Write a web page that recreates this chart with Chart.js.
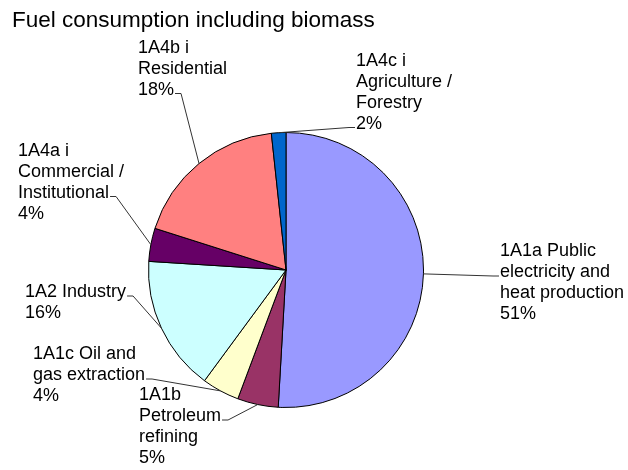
<!DOCTYPE html>
<html>
<head>
<meta charset="utf-8">
<script src="https://cdn.jsdelivr.net/npm/chart.js@4/dist/chart.umd.min.js"></script>
<style>
html,body{margin:0;padding:0;background:#fff;}
#wrap{width:628px;height:470px;}
</style>
</head>
<body>
<div id="wrap"><canvas id="c" width="628" height="470"></canvas></div>
<script>
// ---- data ----
const categories = [
  "1A1a Public electricity and heat production",
  "1A1b Petroleum refining",
  "1A1c Oil and gas extraction",
  "1A2 Industry",
  "1A4a i Commercial / Institutional",
  "1A4b i Residential",
  "1A4c i Agriculture / Forestry"
];
const labelLines = [
  ["1A1a Public", "electricity and", "heat production"],
  ["1A1b", "Petroleum", "refining"],
  ["1A1c Oil and", "gas extraction"],
  ["1A2 Industry"],
  ["1A4a i", "Commercial /", "Institutional"],
  ["1A4b i", "Residential"],
  ["1A4c i", "Agriculture /", "Forestry"]
];
const shares = [50.9, 4.8, 4.4, 15.9, 3.9, 18.4, 1.7];
const sliceColors = ["#9999FF", "#993366", "#FFFFCC", "#CCFFFF", "#660066", "#FF8080", "#0066CC"];
const titleText = "Fuel consumption including biomass";

// ---- label layout (position of text block, side of leader, line the leader meets) ----
const labelLayout = [
  {x: 500, y: 256, side: "left",  line: 1},
  {x: 139, y: 400, side: "right", line: 1},
  {x: 33,  y: 359, side: "right", line: 1},
  {x: 25,  y: 297, side: "right", line: 0},
  {x: 18,  y: 155.5, side: "right", line: 2},
  {x: 138, y: 52.5,  side: "right", line: 2},
  {x: 356, y: 65.5,  side: "left",  line: 3}
];
const FONT = '18px "Liberation Sans", Arial, sans-serif';
const LINE_H = 21;

const labelPlugin = {
  id: 'pieLabels',
  afterDraw(chart) {
    const ctx = chart.ctx;
    const meta = chart.getDatasetMeta(0);
    const total = shares.reduce((a, b) => a + b, 0);
    ctx.save();
    // title
    ctx.font = '22.5px "Liberation Sans", Arial, sans-serif';
    ctx.fillStyle = '#000';
    ctx.textBaseline = 'alphabetic';
    ctx.textAlign = 'left';
    ctx.fillText(titleText, 12, 27);

    ctx.font = FONT;
    meta.data.forEach((arc, i) => {
      const p = arc.getProps(['x', 'y', 'startAngle', 'endAngle', 'outerRadius'], true);
      const mid = (p.startAngle + p.endAngle) / 2;
      const ex = p.x + Math.cos(mid) * p.outerRadius;
      const ey = p.y + Math.sin(mid) * p.outerRadius;
      const lines = labelLines[i].concat([Math.round(shares[i] / total * 100) + '%']);
      const L = labelLayout[i];
      ctx.fillStyle = '#000';
      lines.forEach((t, k) => ctx.fillText(t, L.x, L.y + k * LINE_H));
      // leader
      const ly = L.y + L.line * LINE_H - 1;
      let ax, bx;
      if (L.side === 'right') {
        const w = ctx.measureText(lines[L.line]).width;
        ax = L.x + w + 1; bx = ax + 6;
      } else {
        ax = L.x - 1; bx = ax - 6;
      }
      ctx.strokeStyle = '#333';
      ctx.lineWidth = 1;
      ctx.beginPath();
      ctx.moveTo(ax, ly);
      ctx.lineTo(bx, ly);
      ctx.lineTo(ex, ey);
      ctx.stroke();
    });
    ctx.restore();
  }
};

new Chart(document.getElementById('c'), {
  type: 'pie',
  data: {
    labels: categories,
    datasets: [{
      data: shares,
      backgroundColor: sliceColors,
      borderColor: '#000',
      borderWidth: 1
    }]
  },
  options: {
    responsive: false,
    animation: false,
    layout: {padding: {left: 148, top: 132, right: 204, bottom: 62}},
    plugins: {legend: {display: false}, tooltip: {enabled: false}, title: {display: false}}
  },
  plugins: [labelPlugin]
});
</script>
</body>
</html>
